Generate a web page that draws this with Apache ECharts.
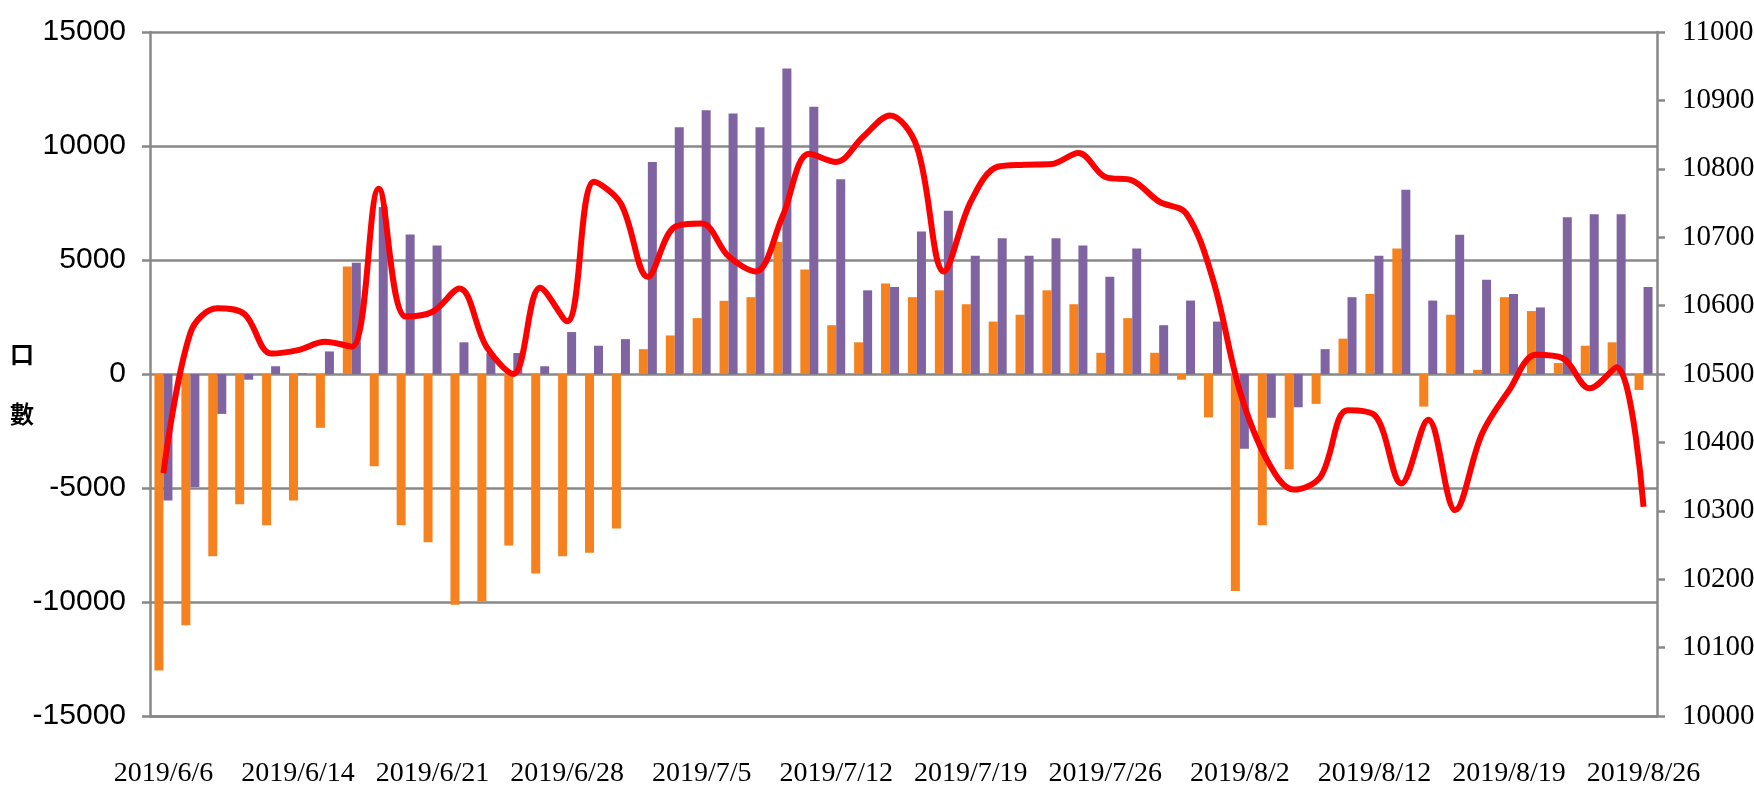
<!DOCTYPE html>
<html>
<head>
<meta charset="utf-8">
<script src="https://cdn.jsdelivr.net/npm/echarts@6/dist/echarts.min.js"></script>
<style>
  html, body { margin: 0; padding: 0; background: #fff; }
  #chart { width: 1754px; height: 796px; }
</style>
</head>
<body>
<div id="chart"></div>
<script>
// 交易日
const dates = [
  '2019/6/6', '2019/6/10', '2019/6/11', '2019/6/12', '2019/6/13', '2019/6/14',
  '2019/6/17', '2019/6/18', '2019/6/19', '2019/6/20', '2019/6/21',
  '2019/6/24', '2019/6/25', '2019/6/26', '2019/6/27', '2019/6/28',
  '2019/7/1', '2019/7/2', '2019/7/3', '2019/7/4', '2019/7/5',
  '2019/7/8', '2019/7/9', '2019/7/10', '2019/7/11', '2019/7/12',
  '2019/7/15', '2019/7/16', '2019/7/17', '2019/7/18', '2019/7/19',
  '2019/7/22', '2019/7/23', '2019/7/24', '2019/7/25', '2019/7/26',
  '2019/7/29', '2019/7/30', '2019/7/31', '2019/8/1', '2019/8/2',
  '2019/8/5', '2019/8/6', '2019/8/7', '2019/8/8', '2019/8/12',
  '2019/8/13', '2019/8/14', '2019/8/15', '2019/8/16', '2019/8/19',
  '2019/8/20', '2019/8/21', '2019/8/22', '2019/8/23', '2019/8/26'
];

// 橘色柱 (口數)
const orangeBars = [
  -13000, -11020, -7990, -5710, -6630, -5550, -2360, 4710, -4050, -6630,
  -7380, -10120, -9970, -7520, -8750, -7990, -7840, -6780, 1090, 1690,
  2450, 3210, 3370, 5790, 4580, 2140, 1390, 3970, 3370, 3670,
  3060, 2300, 2600, 3670, 3060, 930, 2450, 930, -250, -1900,
  -9520, -6630, -4180, -1310, 1550, 3510, 5500, -1430, 2600, 180,
  3370, 2760, 480, 1240, 1390, -700
];

// 紫色柱 (口數)
const purpleBars = [
  -5550, -4960, -1750, -250, 340, 30, 990, 4880, 7330, 6120,
  5640, 1390, 920, 920, 340, 1840, 1240, 1530, 9300, 10820,
  11570, 11430, 10820, 13400, 11720, 8540, 3670, 3820, 6250, 7160,
  5190, 5950, 5190, 5950, 5640, 4270, 5500, 2140, 3220, 2300,
  -3280, -1920, -1460, 1090, 3370, 5190, 8080, 3220, 6110, 4130,
  3510, 2920, 6870, 7010, 7010, 3820
];

// 指數 (右軸)
const indexLine = [
  10355, 10560, 10596, 10588, 10530, 10535, 10547, 10540, 10771, 10584,
  10591, 10625, 10540, 10500, 10626, 10577, 10781, 10749, 10642, 10715,
  10720, 10672, 10650, 10730, 10822, 10810, 10847, 10878, 10832, 10650,
  10752, 10803, 10806, 10807, 10823, 10788, 10783, 10752, 10735, 10638,
  10475, 10375, 10331, 10350, 10447, 10440, 10340, 10433, 10301, 10413,
  10476, 10528, 10523, 10479, 10510, 10306
];

const leftTicks = { min: -15000, max: 15000, step: 5000 };
const rightTicks = { min: 10000, max: 11000, step: 100 };

const gray = '#888888';

let myChart = echarts.init(document.getElementById('chart'));

option = {
  backgroundColor: '#fff',
  animation: false,
  grid: { left: 150, right: 97, top: 32, bottom: 80, outerBoundsMode: 'none' },
  xAxis: {
    type: 'category',
    data: dates,
    boundaryGap: true,
    axisLine: { show: true, onZero: false, lineStyle: { color: gray, width: 2.5 } },
    axisTick: { show: false },
    axisLabel: {
      interval: 4,
      margin: 44,
      color: '#000',
      fontFamily: "'Liberation Serif', 'Times New Roman', serif",
      fontSize: 28
    }
  },
  yAxis: [
    {
      type: 'value',
      min: leftTicks.min,
      max: leftTicks.max,
      interval: leftTicks.step,
      // 第一行是空白間距，讓文字往下移
      name: '{s| }\n口\n數',
      nameLocation: 'middle',
      nameRotate: 0,
      nameGap: 116,
      nameMoveOverlap: false,
      nameTextStyle: {
        color: '#000',
        fontFamily: "'Noto Sans CJK TC', sans-serif",
        fontWeight: 'bold',
        fontSize: 24,
        lineHeight: 60,
        rich: {
          s: { lineHeight: 20, fontSize: 10 }
        }
      },
      axisLine: { show: true, lineStyle: { color: gray, width: 2.5 } },
      axisTick: { show: true, length: 8, lineStyle: { color: gray, width: 2.5 } },
      splitLine: { show: true, lineStyle: { color: gray, width: 2.5 } },
      axisLabel: {
        margin: 24,
        color: '#000',
        fontFamily: "'Liberation Sans Narrow', 'Arial Narrow', 'Liberation Sans', sans-serif",
        fontSize: 30,
        formatter: function (v) { return String(v); }
      }
    },
    {
      type: 'value',
      min: rightTicks.min,
      max: rightTicks.max,
      interval: rightTicks.step,
      position: 'right',
      axisLine: { show: true, lineStyle: { color: gray, width: 2.5 } },
      axisTick: { show: true, length: 8, lineStyle: { color: gray, width: 2.5 } },
      splitLine: { show: false },
      axisLabel: {
        margin: 25,
        color: '#000',
        fontFamily: "'Liberation Serif', 'Times New Roman', serif",
        fontSize: 29,
        formatter: function (v) { return String(v); }
      }
    }
  ],
  series: [
    {
      name: '橘',
      type: 'bar',
      data: orangeBars,
      barWidth: 9,
      barGap: '0%',
      itemStyle: { color: '#F5821F' }
    },
    {
      name: '紫',
      type: 'bar',
      data: purpleBars,
      barWidth: 9,
      barGap: '0%',
      itemStyle: { color: '#8064A2' }
    },
    {
      name: '指數',
      type: 'line',
      yAxisIndex: 1,
      data: indexLine,
      smooth: 0.35,
      showSymbol: false,
      symbol: 'none',
      z: 5,
      lineStyle: { color: '#FF0000', width: 6 }
    }
  ]
};

myChart.setOption(option);
</script>
</body>
</html>
